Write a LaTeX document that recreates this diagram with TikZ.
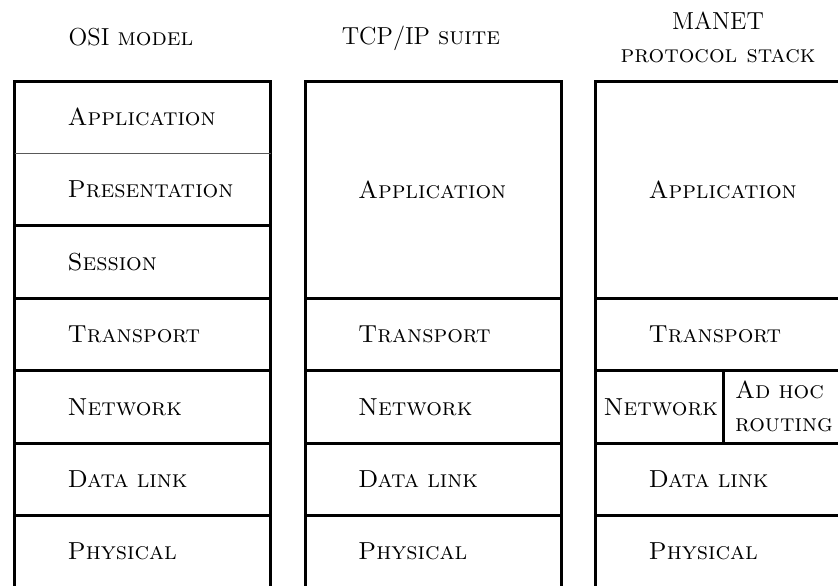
\documentclass[tikz,border=0pt]{standalone}
\usepackage{tikz}
\newcommand{\lsize}{\fontsize{12.3}{16.5}\selectfont}
\tikzset{layer/.style = {draw=black, line width=1.5pt, anchor=north west, outer sep=0pt,
    minimum height=36.2pt, inner xsep=26.5pt, inner ysep=0pt,
    text width=75pt, align=left, font=\lsize\scshape,
    execute at begin node={\hyphenpenalty=10000\relax}}}
\tikzset{tall/.style = {minimum height=108.6pt}}
\tikzset{frame/.style = {line width=1.5pt, line cap=rect}}
\tikzset{sepline/.style = {line width=0.6pt, draw=black!65}}
\tikzset{heading/.style = {align=center, font=\lsize}}

\begin{document}
\begin{tikzpicture}[x=0.5pt, y=-0.5pt]
            \useasboundingbox (0,0) rectangle (838,585);
            \clip (0,0) rectangle (838,585);

            \node [heading] (osi) at (131, 37) {OSI \textsc{model}};
            \node [heading] (tcp) at (421, 38) {TCP/IP \textsc{suite}};
            \node [heading] (manet) at (718, 37) {MANET\\\textsc{protocol stack}};

            % OSI model
            \node [layer, draw=none] (osiapp) at (14.5, 81) {Application};
            \node [layer, draw=none] (osipres) at (14.5, 153.4) {Presentation};
            \node [layer] (osises) at (14.5, 225.8) {Session};
            \node [layer] (ositrans) at (14.5, 298.2) {Transport};
            \node [layer] (osinet) at (14.5, 370.6) {Network};
            \node [layer] (osilink) at (14.5, 443) {Data link};
            \node [layer] (osiphys) at (14.5, 515.4) {Physical};

            \draw [frame] (osiapp.south west) -- (osiapp.north west) -- (osiapp.north east) -- (osiapp.south east);
            \draw [frame] (osipres.north west) -- (osipres.south west) -- (osipres.south east) -- (osipres.north east);
            \draw [sepline] (osiapp.south west) -- (osiapp.south east);

            % TCP/IP suite
            \node [layer, tall] (tcpapp) at (305, 81) {Application};
            \node [layer] (tcptrans) at (305, 298.2) {Transport};
            \node [layer] (tcpnet) at (305, 370.6) {Network};
            \node [layer] (tcplink) at (305, 443) {Data link};
            \node [layer] (tcpphys) at (305, 515.4) {Physical};

            % MANET protocol stack
            \node [layer, tall] (manetapp) at (595.5, 81) {Application};
            \node [layer] (manettrans) at (595.5, 298.2) {Transport};
            \node [layer, inner xsep=4pt, text width=55.75pt] (manetnet) at (595.5, 370.6) {Network};
            \node [layer, inner xsep=6pt, text width=52.25pt] (adhoc) at (723, 370.6) {Ad hoc\\routing};
            \node [layer] (manetlink) at (595.5, 443) {Data link};
            \node [layer] (manetphys) at (595.5, 515.4) {Physical};
        \end{tikzpicture}
\end{document}
